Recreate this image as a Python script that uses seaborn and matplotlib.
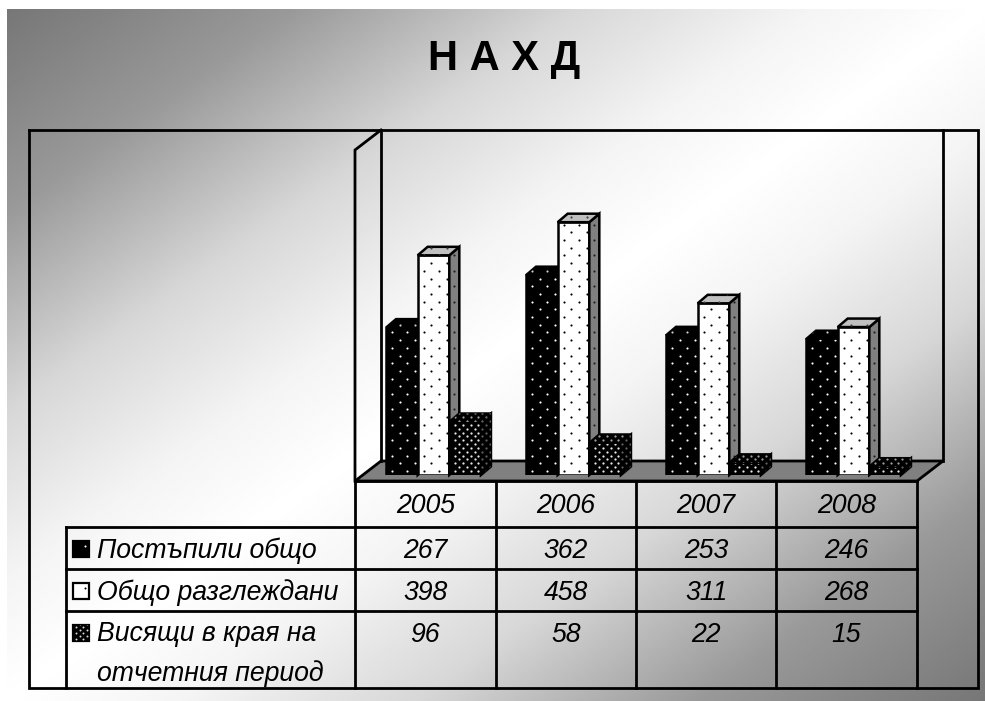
import numpy as np
import pandas as pd
import matplotlib
matplotlib.use("Agg")
import matplotlib.pyplot as plt
import seaborn as sns
from matplotlib.patches import Polygon

years = ["2005", "2006", "2007", "2008"]
received = [267, 362, 253, 246]
reviewed = [398, 458, 311, 268]
pending = [96, 58, 22, 15]
series = ["Постъпили общо", "Общо разглеждани", "Висящи в края на\nотчетния период"]

W, H = 985, 701
sns.set_theme(style="white")
plt.rcParams["font.family"] = ["Liberation Sans", "DejaVu Sans"]

fig = plt.figure(figsize=(W / 100, H / 100), dpi=100, facecolor="white")

# pixel-space layer for the background, frame and table
pix = fig.add_axes([0, 0, 1, 1], zorder=0)
pix.set_axis_off()
xx, yy = np.meshgrid(np.linspace(0, 1, 500), np.linspace(0, 1, 400))
t = 0.5 * xx + 0.5 * yy
u = 1 - np.abs(2 * t - 1)
grey = np.interp(u, [0, 0.29, 0.58, 0.82, 1], [119, 153, 215, 244, 255])
pix.imshow(grey, cmap="gray", vmin=0, vmax=255, extent=(7, 985, 701, 9), aspect="auto", interpolation="bilinear")
pix.set_xlim(0, W)
pix.set_ylim(H, 0)

LW = 2.0


def line(xs, ys, lw=LW):
    pix.plot(xs, ys, color="black", lw=lw, solid_capstyle="projecting", solid_joinstyle="miter", zorder=3)


# outer frame, walls, floor
line([29, 978, 978, 29, 29], [130, 130, 688, 688, 130])
pix.add_patch(Polygon([(355, 481), (381, 461), (943, 461), (917, 481)], closed=True,
                      facecolor="#808080", edgecolor="black", lw=LW, zorder=2))
line([381, 381], [130, 461])
line([943, 943], [130, 461])
line([355, 355, 381], [481, 150, 130])

# table grid
col_edges = [355, 495.5, 636, 776, 916.5]
row_edges = [481, 527, 569, 611, 688]
for xv in col_edges:
    line([xv, xv], [481, 688])
for yv in row_edges[1:-1]:
    line([66, 916.5], [yv, yv])
line([66, 66], [527, 688])
line([355, 916.5], [481, 481])

FS = 19.2
centres = [(a + b) / 2 for a, b in zip(col_edges[:-1], col_edges[1:])]
for c, y_lab in zip(centres, years):
    pix.text(c, 506, y_lab, ha="center", va="center", fontsize=FS, style="italic", color="black")
for row_y, vals in zip([551, 593, 635], [received, reviewed, pending]):
    for c, v in zip(centres, vals):
        pix.text(c, row_y, str(v), ha="center", va="center", fontsize=FS, style="italic", color="black")
pix.text(97, 551, series[0], ha="left", va="center", fontsize=FS, style="italic", color="black")
pix.text(97, 593, series[1], ha="left", va="center", fontsize=FS, style="italic", color="black")
pix.text(97, 654, series[2], ha="left", va="center", fontsize=FS, style="italic", color="black", linespacing=1.59)

pix.text(504.5, 59, "Н А Х Д", ha="center", va="center", fontsize=30, fontweight="bold", color="black")

# bars
df = pd.DataFrame({
    "year": years * 3,
    "value": received + reviewed + pending,
    "series": [s for s in series for _ in years],
})
left, right, base, top = 363.5, 923.5, 475.0, 475.0 - 0.552 * 600
ax = fig.add_axes([left / W, 1 - base / H, (right - left) / W, (base - top) / H], zorder=1)
sns.barplot(data=df, x="year", y="value", hue="series", hue_order=series,
            palette=["black", "white", "black"], saturation=1, width=0.678, gap=0,
            legend=False, ax=ax)
ax.set_xlim(-0.5, 3.5)
ax.set_ylim(0, 600)
ax.set_axis_off()
ax.patch.set_alpha(0)
ax.autoscale(False)

DX, DY = 10.0, 8.5
EDGE = 1.8
to_px = ax.transData + pix.transData.inverted()
styles = [
    dict(front="white", side="#000000", topc="#000000", sdot="#d0d0d0", tdot="#d0d0d0", sx=15.4, sy=7.7, size=2.4),
    dict(front="black", side="#808080", topc="#c0c0c0", sdot="#202020", tdot="#404040", sx=15.4, sy=7.7, size=2.4),
    dict(front="#e8e8e8", side="#000000", topc="#000000", sdot="#606060", tdot="#a0a0a0", sx=7.7, sy=3.85, size=2.6),
]


def dots(face, x0, y0, sx, sy, color, size, z, target=None):
    poly = np.array(face)
    target = target or ax
    xs0, xs1, ys0, ys1 = poly[:, 0].min(), poly[:, 0].max(), poly[:, 1].min(), poly[:, 1].max()
    px, py = [], []
    nrow = int((y0 - ys0) / sy) + 2
    for r in range(nrow):
        yv = y0 - r * sy
        offs = (r % 2) * sx / 2
        for xv in np.arange(x0 + offs, xs1 + 1, sx):
            if xv >= xs0 - 1 and ys0 - 1 <= yv <= ys1 + 1:
                px.append(xv)
                py.append(yv)
    sc = target.scatter(px, py, s=size, c=color, linewidths=0, transform=pix.transData, zorder=z)
    clip = Polygon(poly, closed=True, transform=pix.transData)
    sc.set_clip_path(clip)


for i, container in enumerate(ax.containers):
    st = styles[i]
    for rect in container:
        (x0, y0), (x1, y1) = to_px.transform([(rect.get_x(), 0), (rect.get_x() + rect.get_width(), rect.get_height())])
        z = 10 + i * 5
        rect.set_facecolor("white" if i == 1 else "black")
        rect.set_edgecolor("black")
        rect.set_linewidth(EDGE)
        rect.set_zorder(z)
        side = [(x1, y0), (x1 + DX, y0 - DY), (x1 + DX, y1 - DY), (x1, y1)]
        topf = [(x0, y1), (x0 + DX, y1 - DY), (x1 + DX, y1 - DY), (x1, y1)]
        for face, col, dc in ((side, st["side"], st["sdot"]), (topf, st["topc"], st["tdot"])):
            ax.add_patch(Polygon(face, closed=True, facecolor=col, edgecolor="black", lw=EDGE,
                                 transform=pix.transData, zorder=z, clip_on=False))
            dots(face, x0 + 6, y0 - 4, st["sx"], st["sy"], dc, st["size"], z + 0.5)
        front = [(x0 + 1, y0 - 1), (x1 - 1, y0 - 1), (x1 - 1, y1 + 1), (x0 + 1, y1 + 1)]
        dots(front, x0 + 6, y0 - 4, st["sx"], st["sy"], st["front"] if i != 1 else "black",
             st["size"], z + 1)

# legend keys
keys = [(73, 541), (73, 583), (73, 625)]
for i, (kx, ky) in enumerate(keys):
    face = [(kx, ky), (kx + 16, ky), (kx + 16, ky + 16), (kx, ky + 16)]
    pix.add_patch(Polygon(face, closed=True, facecolor="white" if i == 1 else "black",
                          edgecolor="black", lw=1.6, zorder=4))
    if i == 2:
        dots(face, kx + 3, ky + 14, 7.0, 3.0, "#d8d8d8", 2.0, 5, target=pix)
    else:
        pix.scatter([kx + 12], [ky + 5], s=2.2, c="white" if i == 0 else "black", linewidths=0, zorder=5)
pix.set_xlim(0, W)
pix.set_ylim(H, 0)

fig.savefig("out.png", dpi=100)
